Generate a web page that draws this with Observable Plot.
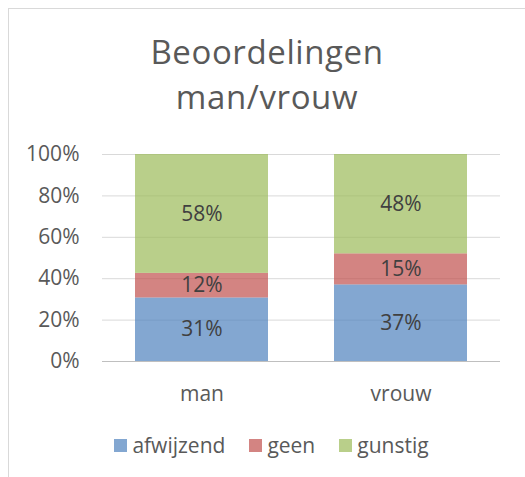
<!DOCTYPE html>
<html>
<head>
<meta charset="utf-8">
<script src="https://cdn.jsdelivr.net/npm/d3@7"></script>
<script src="https://cdn.jsdelivr.net/npm/@observablehq/plot@0.6"></script>
<style>
  html, body { margin: 0; padding: 0; background: #fff; }
  body { width: 525px; height: 477px; position: relative; overflow: hidden; font-family: "Open Sans", sans-serif; }
  #frame { position: absolute; left: 8px; top: 8px; width: 540px; height: 500px; border: 1px solid #d9d9d9; box-sizing: border-box; }
  #title { position: absolute; left: 0; width: 534px; top: 29px; text-align: center; font-size: 33px; line-height: 45px; color: #595959; letter-spacing: 0.6px; }
  #chart { position: absolute; left: 0; top: 130px; }
  #legend { position: absolute; left: 9px; width: 525px; top: 431px; display: flex; justify-content: center; align-items: center; font-size: 21px; color: #595959; }
  .item { display: flex; align-items: center; margin: 0 12px; }
  .sw { width: 13px; height: 13px; margin-right: 5px; }
</style>
</head>
<body>
<div id="frame"></div>
<div id="title">Beoordelingen<br>man/vrouw</div>
<div id="chart"></div>
<div id="legend"></div>
<script>
const categories = ["man", "vrouw"];
const series = ["afwijzend", "geen", "gunstig"];
const afwijzend = [31, 37];
const geen = [12, 15];
const gunstig = [58, 48];
const yTicks = [0, 0.2, 0.4, 0.6, 0.8, 1.0];
const colors = ["#4F81BD", "#C0504D", "#9BBB59"];

const seriesValues = {afwijzend, geen, gunstig};
const data = [];
series.forEach(s => categories.forEach((c, i) => data.push({cat: c, series: s, value: seriesValues[s][i]})));

const stackOpts = {x: "cat", y: "value", z: "series", order: series, offset: "normalize"};

const chart = Plot.plot({
  width: 525,
  height: 280,
  marginTop: 24,
  marginBottom: 49,
  marginLeft: 102,
  marginRight: 25,
  style: {fontFamily: "'Open Sans', sans-serif", fontSize: "21px", color: "#595959", background: "transparent"},
  x: {domain: categories, paddingInner: 1/3, paddingOuter: 1/6, label: null, tickSize: 0, tickPadding: 25},
  y: {domain: [0, 1], ticks: yTicks, tickFormat: d => Math.round(d * 100) + "%", label: null, tickSize: 0, tickPadding: 23},
  color: {domain: series, range: colors},
  marks: [
    Plot.ruleY(yTicks.filter(d => d > 0), {stroke: "#d9d9d9", strokeWidth: 1}),
    Plot.barY(data, Plot.stackY({...stackOpts, fill: "series", fillOpacity: 0.7})),
    Plot.ruleY([0], {stroke: "#bfbfbf", strokeWidth: 1}),
    Plot.text(data, Plot.stackY({...stackOpts, text: d => d.value + "%", fill: "#404040", fontSize: 21}))
  ]
});
document.getElementById("chart").appendChild(chart);

const legend = document.getElementById("legend");
series.forEach((s, i) => {
  const item = document.createElement("div");
  item.className = "item";
  const sw = document.createElement("div");
  sw.className = "sw";
  sw.style.background = colors[i];
  sw.style.opacity = 0.7;
  const t = document.createElement("span");
  t.textContent = s;
  item.appendChild(sw);
  item.appendChild(t);
  legend.appendChild(item);
});
</script>
</body>
</html>
